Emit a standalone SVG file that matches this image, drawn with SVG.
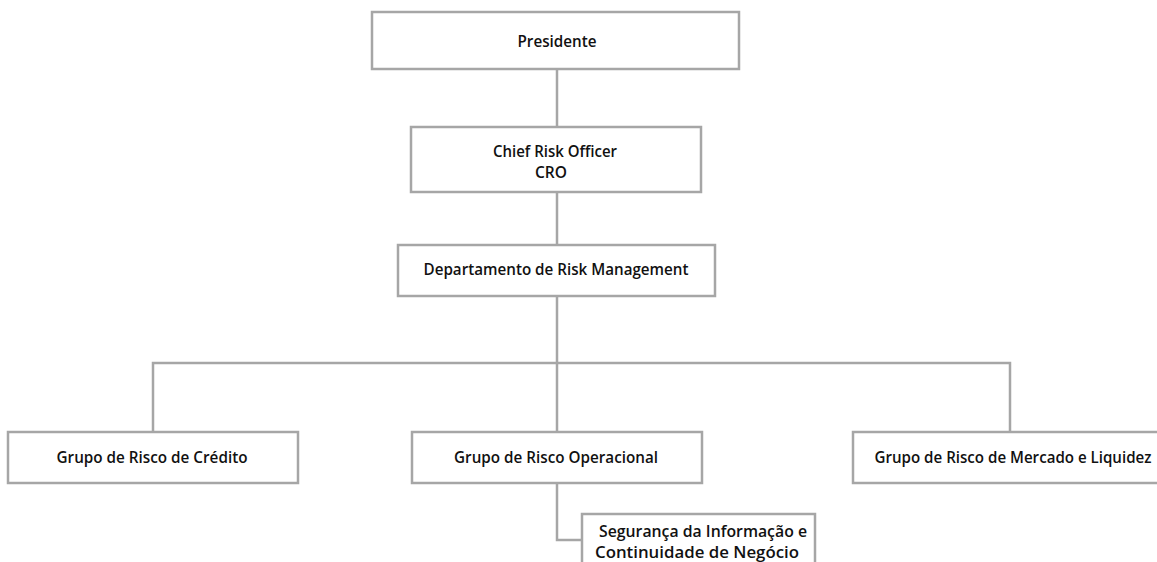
<svg xmlns="http://www.w3.org/2000/svg" width="1157" height="562" viewBox="0 0 1157 562">
<style>
.box{fill:#fff;stroke:#a6a6a6;stroke-width:2.5}
.ln{fill:none;stroke:#a6a6a6;stroke-width:2.5}
text{font-family:"Open Sans","Liberation Sans",Arial,sans-serif;font-weight:600;font-size:15.5px;fill:#111;text-anchor:middle}
</style>
<rect width="1157" height="562" fill="#fff"/>
<g id="connectors">
<path class="ln" d="M557 69V127"/>
<path class="ln" d="M557 192V245"/>
<path class="ln" d="M557 296V432"/>
<path class="ln" d="M153 432V363H1010V432"/>
<path class="ln" d="M557 483V540H582"/>
</g>
<g id="presidente">
<rect class="box" x="372" y="12" width="367" height="57"/>
<text x="557" y="47" textLength="79" lengthAdjust="spacingAndGlyphs">Presidente</text>
</g>
<g id="cro">
<rect class="box" x="411" y="127" width="290" height="65"/>
<text x="555" y="157" textLength="124" lengthAdjust="spacingAndGlyphs">Chief Risk Officer</text>
<text x="551" y="178" textLength="32" lengthAdjust="spacingAndGlyphs">CRO</text>
</g>
<g id="dept">
<rect class="box" x="398" y="245" width="317" height="51"/>
<text x="556" y="275" textLength="265" lengthAdjust="spacingAndGlyphs">Departamento de Risk Management</text>
</g>
<g id="credito">
<rect class="box" x="8" y="432" width="290" height="51"/>
<text x="152" y="463" textLength="191" lengthAdjust="spacingAndGlyphs">Grupo de Risco de Crédito</text>
</g>
<g id="operacional">
<rect class="box" x="412" y="432" width="290" height="51"/>
<text x="556" y="463" textLength="204" lengthAdjust="spacingAndGlyphs">Grupo de Risco Operacional</text>
</g>
<g id="mercado">
<rect class="box" x="853" y="432" width="314" height="51"/>
<text x="1013" y="463" textLength="277" lengthAdjust="spacingAndGlyphs">Grupo de Risco de Mercado e Liquidez</text>
</g>
<g id="seguranca">
<rect class="box" x="582" y="514" width="233" height="60"/>
<text x="703" y="537" textLength="208" lengthAdjust="spacingAndGlyphs">Segurança da Informação e</text>
<text x="697" y="558" textLength="204" lengthAdjust="spacingAndGlyphs">Continuidade de Negócio</text>
</g>
</svg>
